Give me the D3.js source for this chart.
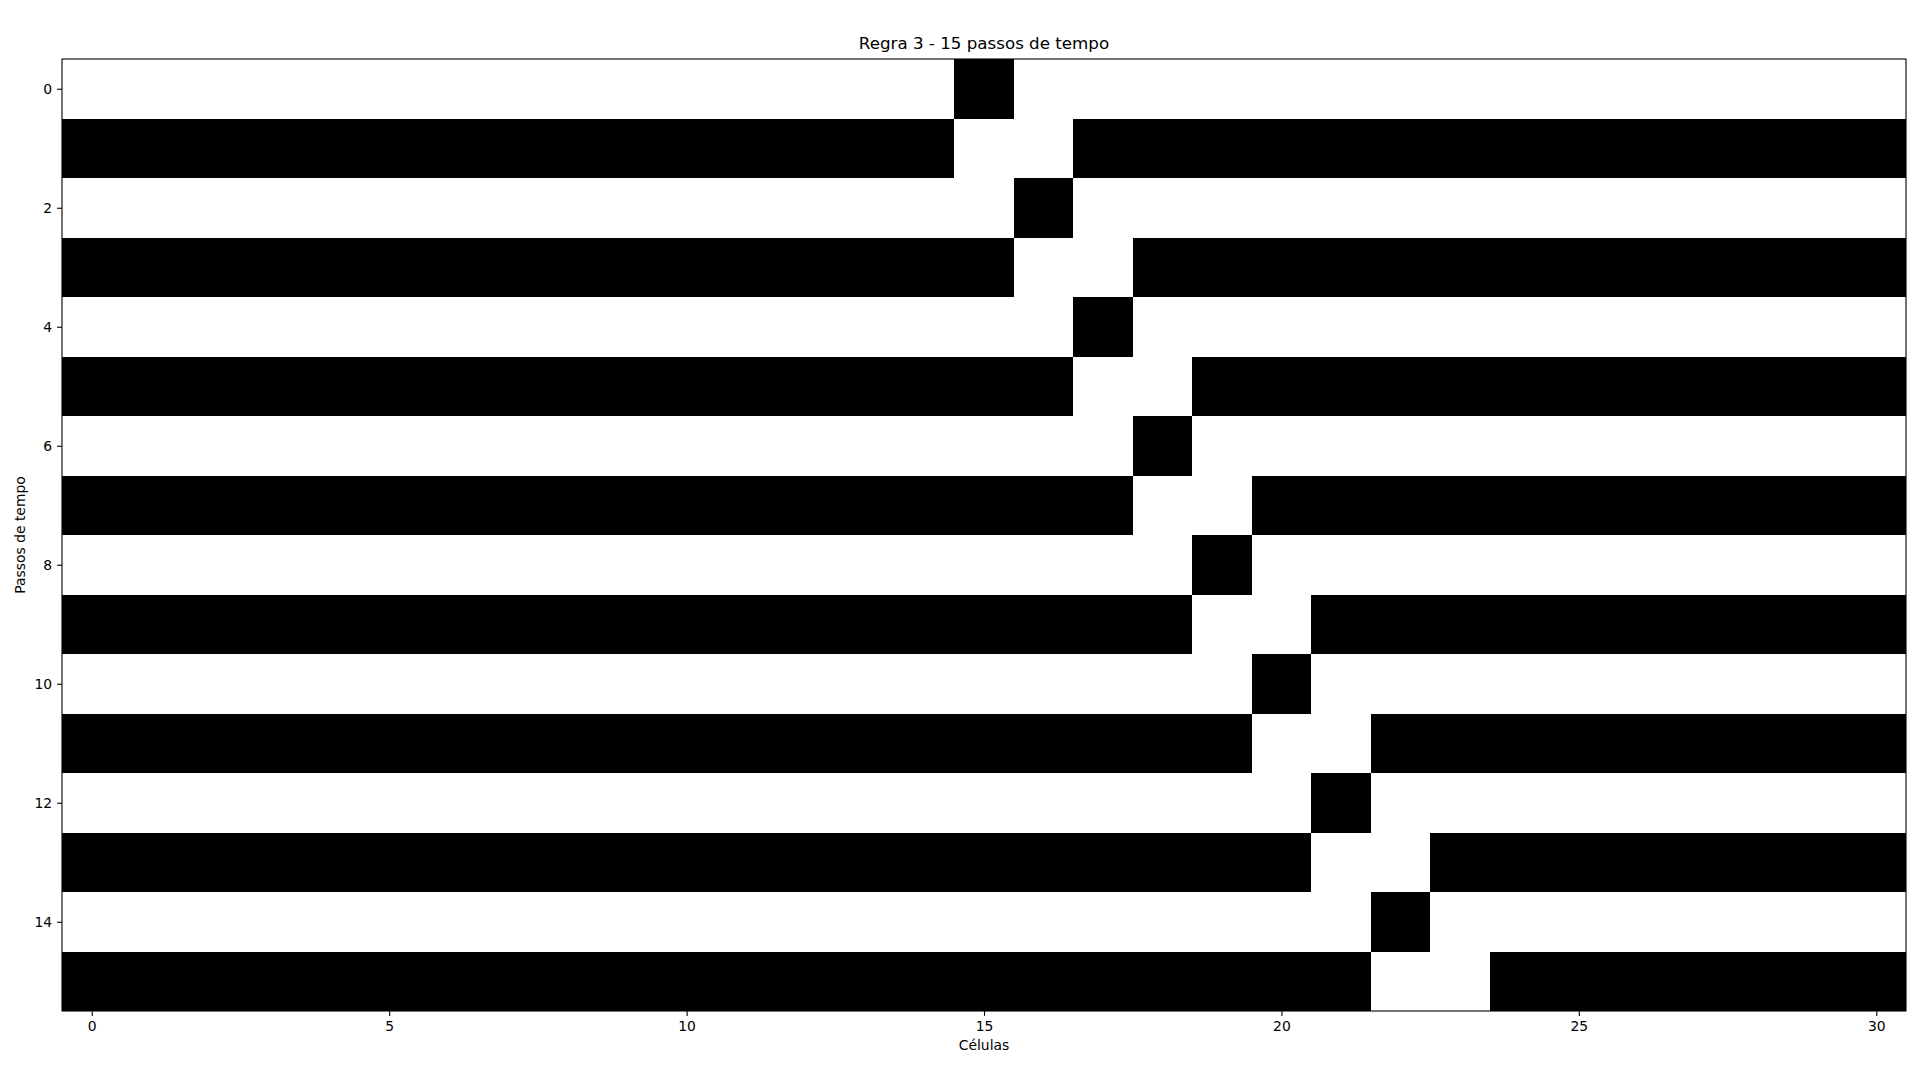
<!DOCTYPE html>
<html><head><meta charset="utf-8">
<script src="https://cdn.jsdelivr.net/npm/d3@7"></script>
<style>body{margin:0;background:#fff}svg{display:block}text{font-family:"DejaVu Sans",sans-serif;fill:#000}</style>
</head><body><svg id="c" width="1920" height="1080"></svg>
<script>
const title = "Regra 3 - 15 passos de tempo";
const xLabel = "Células";
const yLabel = "Passos de tempo";
const xTicks = [0,5,10,15,20,25,30];
const yTicks = [0,2,4,6,8,10,12,14];
const rows = [
"0000000000000001000000000000000",
"1111111111111110011111111111111",
"0000000000000000100000000000000",
"1111111111111111001111111111111",
"0000000000000000010000000000000",
"1111111111111111100111111111111",
"0000000000000000001000000000000",
"1111111111111111110011111111111",
"0000000000000000000100000000000",
"1111111111111111111001111111111",
"0000000000000000000010000000000",
"1111111111111111111100111111111",
"0000000000000000000001000000000",
"1111111111111111111110011111111",
"0000000000000000000000100000000",
"1111111111111111111111001111111"
];
const nCols = rows[0].length, nRows = rows.length;
const L=62, R=1906, T=59, B=1011;
const svg = d3.select("#c");
const x = d3.scaleLinear().domain([-0.5, nCols-0.5]).range([L,R]);
const y = d3.scaleLinear().domain([-0.5, nRows-0.5]).range([T,B]);
const cells = [];
rows.forEach((r,i)=>{ for(let j=0;j<r.length;j++) cells.push({r:i,c:j,v:+r[j]}); });
const rx = v=>Math.round(x(v)), ry = v=>Math.round(y(v));
svg.append("g").attr("shape-rendering","crispEdges").selectAll("rect").data(cells).join("rect")
  .attr("x",d=>rx(d.c-0.5)).attr("y",d=>ry(d.r-0.5))
  .attr("width",d=>rx(d.c+0.5)-rx(d.c-0.5)).attr("height",d=>ry(d.r+0.5)-ry(d.r-0.5))
  .attr("fill",d=>d.v?"#000":"#fff");
const fs = "13.9px";
const xa = svg.append("g").attr("transform",`translate(0,${B})`)
  .call(d3.axisBottom(x).tickValues(xTicks).tickSize(4.9).tickPadding(4.9).tickFormat(d3.format("d")));
const ya = svg.append("g").attr("transform",`translate(${L},0)`)
  .call(d3.axisLeft(y).tickValues(yTicks).tickSize(4.9).tickPadding(4.9).tickFormat(d3.format("d")));
[xa,ya].forEach(a=>{a.select(".domain").remove();a.selectAll("line").attr("stroke","#000").attr("stroke-width",1.1);
  a.selectAll("text").attr("font-family","DejaVu Sans").style("font-size",fs).attr("fill","#000");});
svg.append("rect").attr("x",L).attr("y",T).attr("width",R-L).attr("height",B-T)
  .attr("fill","none").attr("stroke","#000").attr("stroke-width",1.1);
svg.append("text").attr("x",(L+R)/2).attr("y",49.3).attr("text-anchor","middle").style("font-size","16.7px").text(title);
svg.append("text").attr("x",(L+R)/2).attr("y",1050).attr("text-anchor","middle").style("font-size",fs).text(xLabel);
svg.append("text").attr("transform",`translate(25,${(T+B)/2}) rotate(-90)`).attr("text-anchor","middle").style("font-size",fs).text(yLabel);
</script></body></html>
